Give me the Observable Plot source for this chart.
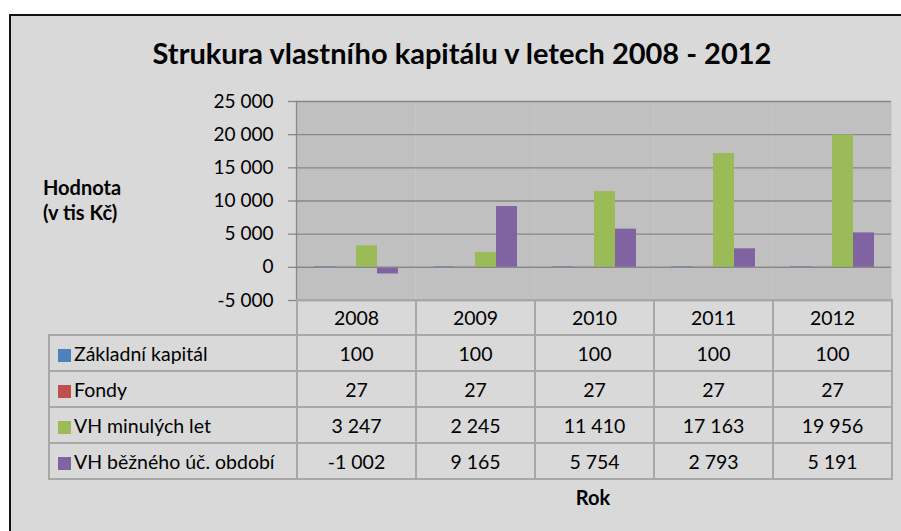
<!DOCTYPE html>
<html><head><meta charset="utf-8">
<script src="https://cdn.jsdelivr.net/npm/d3@7"></script>
<script src="https://cdn.jsdelivr.net/npm/@observablehq/plot@0.6"></script>
<style>
body{margin:0;background:#fff;font-family:Lato,"Open Sans",sans-serif;color:#000;}
#page{position:relative;width:901px;height:531px;overflow:hidden;}
#frame{position:absolute;left:9px;top:14px;right:-5px;bottom:-5px;border-left:2px solid #111;border-top:2px solid #111;background:#d9d9d9;}
#title{position:absolute;left:0;width:924px;top:34px;text-align:center;font-weight:bold;font-size:29px;line-height:38px;}
#ylab{position:absolute;left:43px;top:175px;font-weight:bold;font-size:20px;line-height:25px;}
#chart{position:absolute;left:0;top:0;}
#tbl{position:absolute;left:48px;top:299px;border-collapse:collapse;table-layout:fixed;font-size:19.5px;}
#tbl td{border:2px solid #a8a8a8;padding:0;text-align:center;height:34px;white-space:nowrap;}
#tbl tr.hdr td{height:33px;}
#tbl td.leg{text-align:left;padding-left:8px;}
#tbl td.blank{border-top:none;border-left:none;}
.sw{display:inline-block;width:13px;height:13px;margin-right:3px;vertical-align:-1px;}
#rok{position:absolute;left:493px;width:200px;top:485px;text-align:center;font-weight:bold;font-size:20px;}
</style></head>
<body><div id="page">
<div id="frame"></div>
<div id="title">Strukura vlastního kapitálu v letech 2008 - 2012</div>
<div id="ylab">Hodnota<br>(v tis Kč)</div>
<div id="chart"></div>
<table id="tbl"></table>
<div id="rok">Rok</div>
</div>
<script>
const years = ["2008", "2009", "2010", "2011", "2012"];
const seriesNames = ["Základní kapitál", "Fondy", "VH minulých let", "VH běžného úč. období"];
const zakladniKapital = [100, 100, 100, 100, 100];
const fondy = [27, 27, 27, 27, 27];
const vhMinulychLet = [3247, 2245, 11410, 17163, 19956];
const vhBeznehoObdobi = [-1002, 9165, 5754, 2793, 5191];
const seriesColors = ["#4f81bd", "#c0504d", "#9bbb59", "#8064a2"];
const yTicks = [-5000, 0, 5000, 10000, 15000, 20000, 25000];

const seriesValues = [zakladniKapital, fondy, vhMinulychLet, vhBeznehoObdobi];
const fmt = d3.formatLocale({decimal: ",", thousands: "\u00a0", grouping: [3], currency: ["", ""], minus: "-"}).format(",d");

const rows = [];
years.forEach((yr, i) => seriesNames.forEach((s, j) => rows.push({year: yr, series: s, value: seriesValues[j][i]})));

const chart = Plot.plot({
  width: 901, height: 301,
  marginLeft: 296, marginRight: 10, marginTop: 101, marginBottom: 1,
  style: {background: "transparent", fontFamily: "Lato", fontSize: "19px", color: "#000", overflow: "visible"},
  fx: {domain: years, padding: 0, axis: null},
  x: {domain: seriesNames, paddingInner: 0, paddingOuter: 0.8, axis: null},
  y: {domain: [-5000, 25000]},
  color: {domain: seriesNames, range: seriesColors},
  marks: [
    Plot.frame({fill: "#c0c0c0", stroke: null}),
    Plot.gridY(yTicks, {stroke: "#878787", strokeOpacity: 1, strokeWidth: 1.3}),
    Plot.barY(rows, {fx: "year", x: "series", y: "value", fill: "series", inset: 0}),
    Plot.ruleY([0], {stroke: "#878787", strokeWidth: 1.3}),
    Plot.frame({anchor: "left", facetAnchor: "left", stroke: "#878787", strokeWidth: 1.3}),
    Plot.axisY(yTicks, {tickFormat: fmt, tickSize: 8, tickPadding: 15, stroke: "#878787", fill: "#000", strokeWidth: 1.3, label: null})
  ]
});
document.getElementById("chart").appendChild(chart);

// data table
const tbl = document.getElementById("tbl");
const cg = document.createElement("colgroup");
[248, ...years.map(() => 119)].forEach(w => { const c = document.createElement("col"); c.style.width = w + "px"; cg.appendChild(c); });
tbl.appendChild(cg);
const hr = tbl.insertRow(); hr.className = "hdr";
const blank = hr.insertCell(); blank.className = "blank";
years.forEach(y => { hr.insertCell().textContent = y; });
seriesNames.forEach((s, j) => {
  const r = tbl.insertRow();
  const c = r.insertCell(); c.className = "leg";
  const sw = document.createElement("span"); sw.className = "sw"; sw.style.background = seriesColors[j];
  c.appendChild(sw); c.appendChild(document.createTextNode(s));
  seriesValues[j].forEach(v => { r.insertCell().textContent = fmt(v); });
});
</script>
</body></html>
